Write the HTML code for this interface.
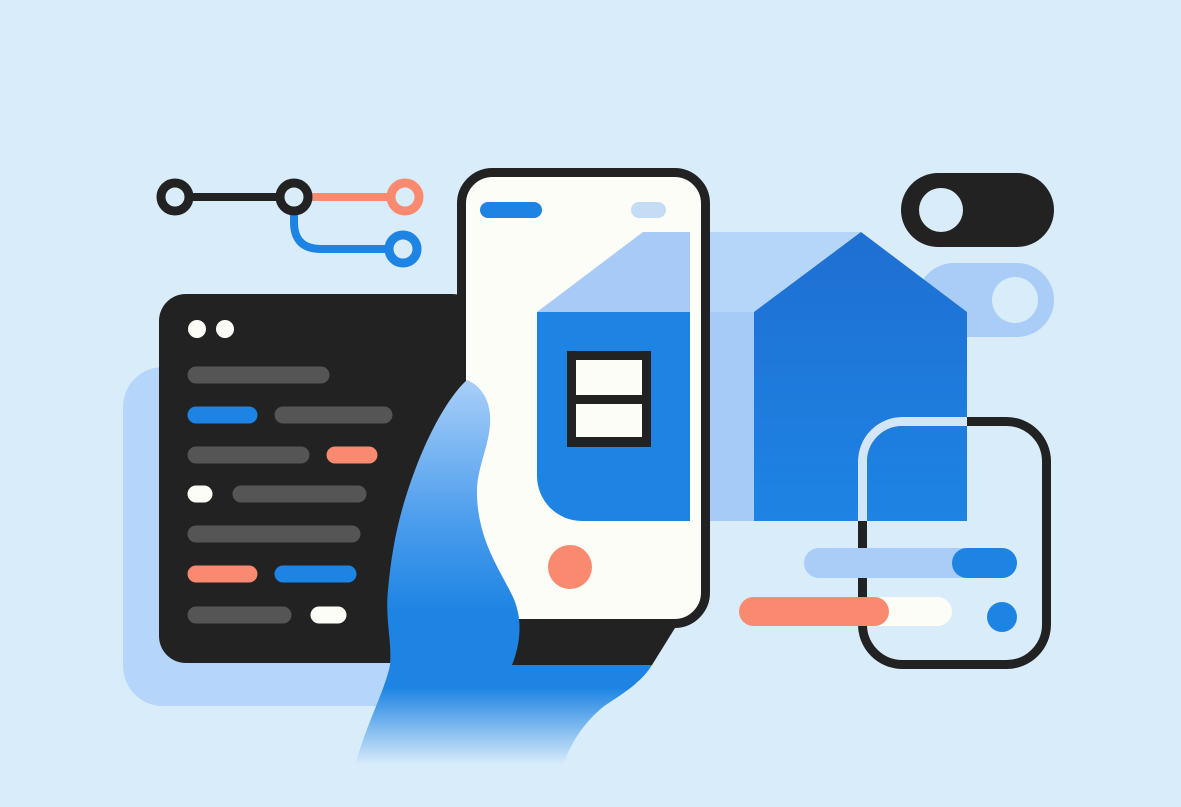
<!DOCTYPE html>
<html><head><meta charset="utf-8"><style>html,body{margin:0;padding:0;background:#d9ecfa;}svg{display:block}</style></head>
<body>
<svg width="1181" height="807" viewBox="0 0 1181 807" xmlns="http://www.w3.org/2000/svg">
<defs>
<linearGradient id="hand" x1="0" y1="380" x2="0" y2="765" gradientUnits="userSpaceOnUse">
<stop offset="0" stop-color="#a9cff8"/>
<stop offset="0.35" stop-color="#4f9fed"/>
<stop offset="0.6" stop-color="#1e84e3"/>
<stop offset="0.8" stop-color="#1e84e3"/>
<stop offset="1" stop-color="#d9ecfa"/>
</linearGradient>
<linearGradient id="house" x1="0" y1="232" x2="0" y2="521" gradientUnits="userSpaceOnUse">
<stop offset="0" stop-color="#1f6fd2"/>
<stop offset="1" stop-color="#1d84e4"/>
</linearGradient>
<clipPath id="hc"><polygon points="754,312 861,232 967,312 967,521 754,521"/></clipPath>
</defs>
<rect width="1181" height="807" fill="#d9ecfa"/>

<path d="M294 212 V222 Q294 249 321 249 H390" fill="none" stroke="#1e84e3" stroke-width="8"/>
<line x1="175" y1="197" x2="294" y2="197" stroke="#222" stroke-width="8"/>
<line x1="294" y1="197" x2="395" y2="197" stroke="#f98a70" stroke-width="8"/>
<circle cx="175" cy="197" r="14" fill="#d9ecfa" stroke="#222" stroke-width="9"/>
<circle cx="294" cy="197" r="14" fill="#d9ecfa" stroke="#222" stroke-width="9"/>
<circle cx="405" cy="197" r="14" fill="#d9ecfa" stroke="#f98a70" stroke-width="9"/>
<circle cx="403" cy="249" r="14" fill="#d9ecfa" stroke="#1e84e3" stroke-width="9"/>

<rect x="123" y="367" width="380" height="339" rx="40" fill="#b5d6fa"/>
<rect x="159" y="294" width="320" height="369" rx="27" fill="#222"/>
<circle cx="197" cy="329" r="9" fill="#fdfdf7"/>
<circle cx="225" cy="329" r="9" fill="#fdfdf7"/>
<g stroke-linecap="round" stroke-width="17">
<line x1="196" y1="375" x2="321" y2="375" stroke="#555"/>
<line x1="196" y1="415" x2="249" y2="415" stroke="#1e84e3"/>
<line x1="283" y1="415" x2="384" y2="415" stroke="#555"/>
<line x1="196" y1="455" x2="301" y2="455" stroke="#555"/>
<line x1="335" y1="455" x2="369" y2="455" stroke="#f98a70"/>
<line x1="196" y1="494" x2="204" y2="494" stroke="#fdfdf7"/>
<line x1="241" y1="494" x2="358" y2="494" stroke="#555"/>
<line x1="196" y1="534" x2="352" y2="534" stroke="#555"/>
<line x1="196" y1="574" x2="249" y2="574" stroke="#f98a70"/>
<line x1="283" y1="574" x2="348" y2="574" stroke="#1e84e3"/>
<line x1="196" y1="615" x2="283" y2="615" stroke="#555"/>
<line x1="319" y1="615" x2="338" y2="615" stroke="#fdfdf7"/>
</g>

<rect x="690" y="232" width="171" height="80" fill="#b6d6f9"/>
<rect x="690" y="312" width="80" height="209" fill="#a6cbf6"/>
<rect x="917" y="263" width="137" height="74" rx="37" fill="#a9cdf7"/>
<circle cx="1015" cy="300" r="23" fill="#d9ecfa"/>
<polygon points="754,312 861,232 967,312 967,521 754,521" fill="url(#house)"/>
<rect x="901" y="173" width="153" height="74" rx="37" fill="#222"/>
<circle cx="941" cy="210" r="22" fill="#d9ecfa"/>

<rect x="862.5" y="421.5" width="184" height="243" rx="40" fill="none" stroke="#222" stroke-width="9"/>
<g clip-path="url(#hc)"><rect x="862.5" y="421.5" width="184" height="243" rx="40" fill="none" stroke="#d2e6f8" stroke-width="9"/></g>

<rect x="804" y="548" width="213" height="30" rx="15" fill="#a9cdf7"/>
<rect x="952" y="548" width="65" height="30" rx="15" fill="#1e84e3"/>
<rect x="800" y="597" width="152" height="29" rx="14.5" fill="#fdfdf7"/>
<rect x="739" y="597" width="150" height="29" rx="14.5" fill="#f98a70"/>
<circle cx="1002" cy="617" r="15" fill="#1e84e3"/>

<polygon points="500,610 690,610 675,628 652,665 512,665" fill="#222"/>
<rect x="461.5" y="172.5" width="244" height="451" rx="31" fill="#fdfdf7" stroke="#222" stroke-width="9"/>
<rect x="480" y="202" width="62" height="16" rx="8" fill="#1e84e3"/>
<rect x="631" y="202" width="35" height="16" rx="8" fill="#c5dcf5"/>
<polygon points="537,312 643,232 690,232 690,312" fill="#a7cbf6"/>
<path d="M537 312 H690 V521 H582 A45 45 0 0 1 537 476 Z" fill="#1e84e3"/>
<rect x="567" y="351" width="84" height="96" fill="#222"/>
<rect x="576" y="360" width="66" height="35" fill="#fdfdf7"/>
<rect x="576" y="404" width="66" height="33" fill="#fdfdf7"/>
<circle cx="570" cy="567" r="22" fill="#f98a70"/>

<path d="M467 380 C480 385 492 400 490 425 C488 450 476 470 477 495 C478 540 500 570 512 595 C522 615 522 640 512 665 L652 665 C640 685 615 698 603 707 C585 722 572 740 563 765 L355 765 C368 720 385 690 390 665 C392 640 385 620 388 590 C392 545 400 510 415 470 C430 430 450 395 467 380 Z" fill="url(#hand)"/>
</svg>
</body></html>
